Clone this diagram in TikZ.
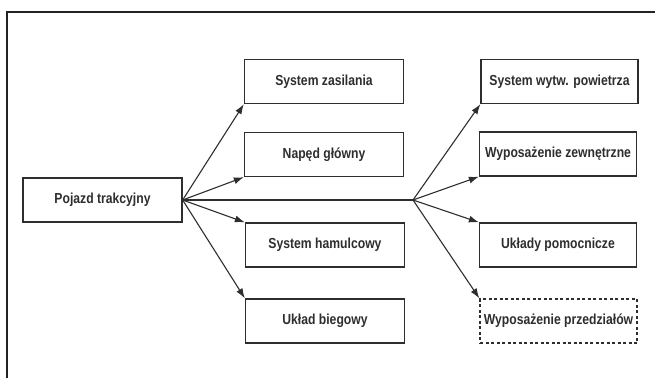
\documentclass[tikz,border=0pt]{standalone}
\usepackage{fontspec}
\newfontfamily\boxfont{Liberation Sans}[FakeStretch=0.84]
\usetikzlibrary{arrows.meta}
\definecolor{inkgray}{HTML}{2E2E2E}
\definecolor{framegray}{HTML}{222222}
\tikzset{
  block/.style={draw=inkgray, line width=1.3pt, fill=white, inner sep=0pt,
    minimum height=44pt, text=inkgray,
    font=\boxfont\bfseries\fontsize{14.5}{17}\selectfont},
  leftblock/.style={block, minimum width=159pt},
  rightblock/.style={block, minimum width=157pt},
  link/.style={draw=inkgray, line width=1.1pt},
  arrowlink/.style={link, -{Latex[length=10pt,width=7pt]}}
}
\begin{document}
\begin{tikzpicture}[x=1pt, y=-1pt]
  \useasboundingbox (0,0) rectangle (655,378);
  % outer frame, open at the right and bottom
  \draw[framegray, line width=2pt] (7,378) -- (7,12) -- (656,12);

  % root
  \node[leftblock] (root) at (102.5,200) {Pojazd trakcyjny};

  % first group of subsystems
  \node[leftblock] (zas) at (324,81.5) {System zasilania};
  \node[leftblock] (nap) at (324,154.5) {Napęd główny};
  \node[leftblock] (ham) at (325,245) {System hamulcowy};
  \node[leftblock] (bieg) at (325,321) {Układ biegowy};

  % second group of subsystems
  \node[rightblock] (pow) at (559.5,81.5) {System wytw. powietrza};
  \node[rightblock] (zew) at (558,154) {Wyposażenie zewnętrzne};
  \node[rightblock] (pom) at (558,245) {Układy pomocnicze};
  \node[rightblock, dashed, dash pattern=on 3pt off 2.5pt] (prz) at (558.5,321) {Wyposażenie przedziałów};

  % branching point of the second fan
  \coordinate (fork) at (413,200);

  \draw[arrowlink] (root.east) -- (zas.south west);
  \draw[arrowlink] (root.east) -- (nap.south west);
  \draw[arrowlink] (root.east) -- (ham.north west);
  \draw[arrowlink] (root.east) -- (bieg.north west);
  \draw[link] (root.east) -- (fork);

  \draw[arrowlink] (fork) -- (pow.south west);
  \draw[arrowlink] (fork) -- (zew.south west);
  \draw[arrowlink] (fork) -- (pom.north west);
  \draw[arrowlink] (fork) -- (prz.north west);
\end{tikzpicture}
\end{document}
